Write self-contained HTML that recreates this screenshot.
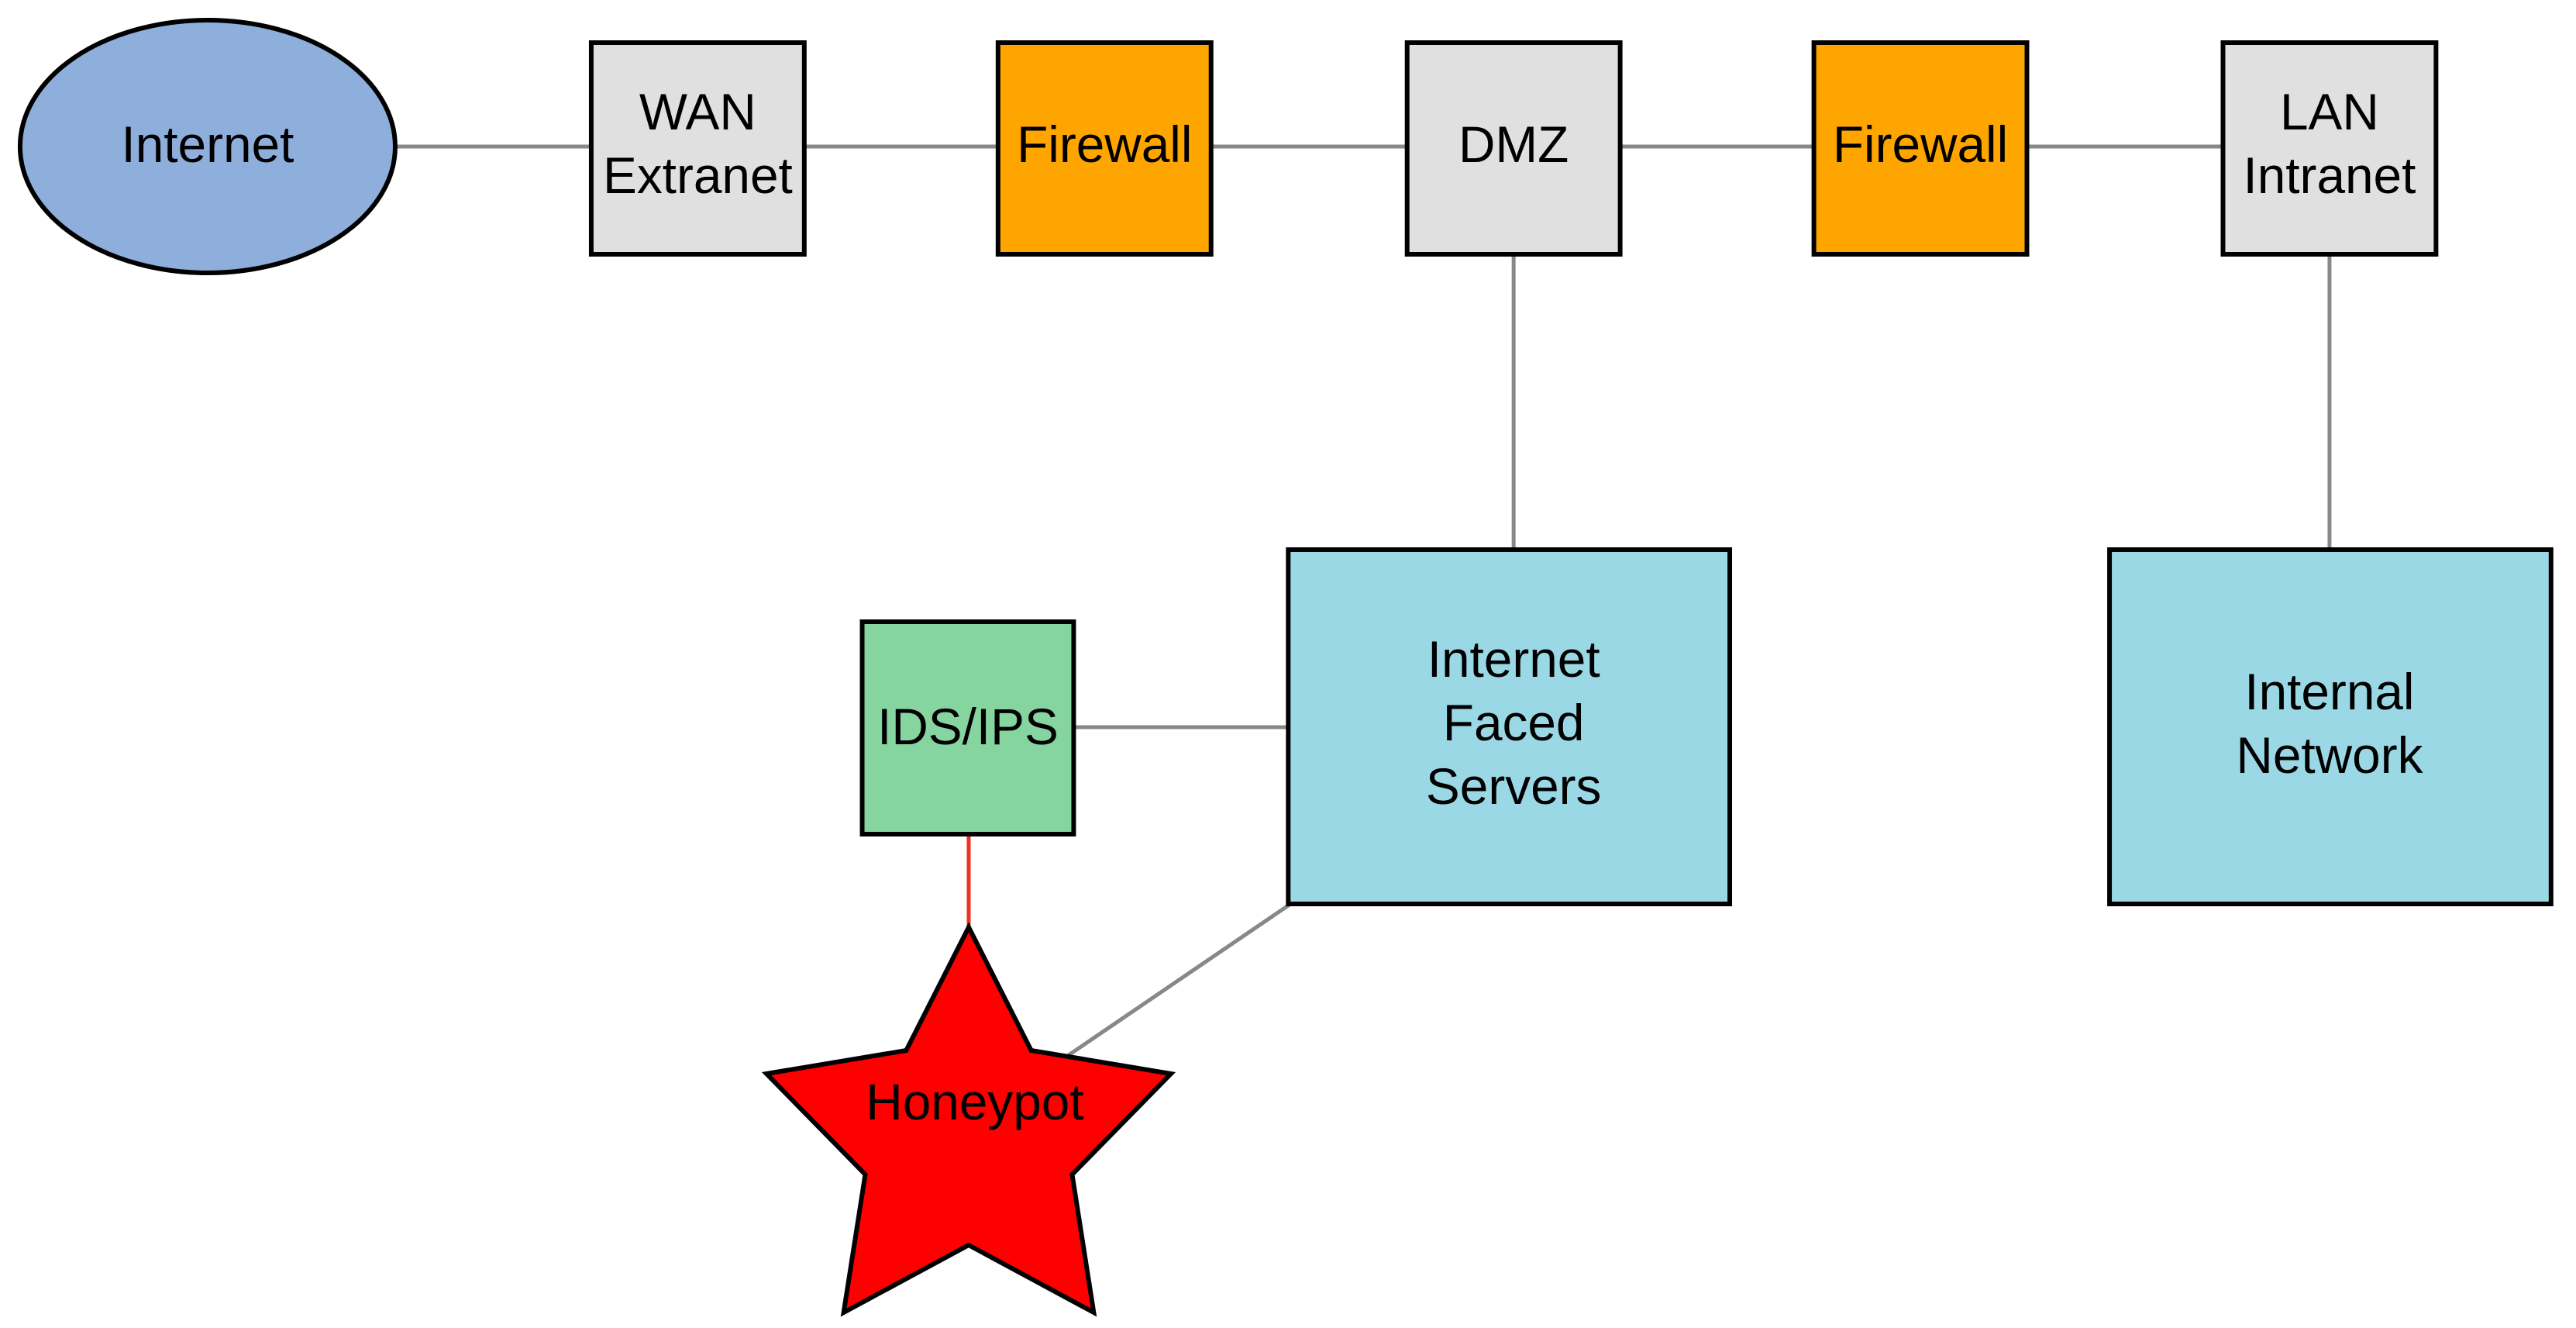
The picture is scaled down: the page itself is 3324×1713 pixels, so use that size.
<!DOCTYPE html>
<html><head><meta charset="utf-8"><style>
html,body{margin:0;padding:0;background:#fff;}
svg{display:block;}
text{font-family:"Liberation Sans",sans-serif;font-size:66px;fill:#000;text-anchor:middle;}
</style></head><body>
<svg width="3324" height="1713" viewBox="0 0 3324 1713" xmlns="http://www.w3.org/2000/svg">
<g transform="scale(0.996 1)">
<g stroke="#86888a" stroke-width="5" fill="none">
<line x1="510" y1="189" x2="2880" y2="189"/>
<line x1="1961" y1="328" x2="1961" y2="710"/>
<line x1="3018" y1="328" x2="3018" y2="710"/>
<line x1="1391" y1="938" x2="1669" y2="938"/>
<line x1="1672" y1="1166" x2="1380" y2="1364"/>
</g>
<line x1="1255" y1="1076" x2="1255" y2="1196" stroke="#f03020" stroke-width="5"/>
<g stroke="#000" stroke-width="6">
<ellipse cx="269" cy="189" rx="243" ry="163" fill="#8eaedc"/>
<rect x="766" y="55" width="276" height="273" fill="#e0e0e0"/>
<rect x="1293" y="55" width="276" height="273" fill="#ffa500"/>
<rect x="1823" y="55" width="276" height="273" fill="#e0e0e0"/>
<rect x="2350" y="55" width="276" height="273" fill="#ffa500"/>
<rect x="2880" y="55" width="276" height="273" fill="#e0e0e0"/>
<rect x="1669" y="709" width="572" height="457" fill="#9bd8e6"/>
<rect x="2733" y="709" width="572" height="457" fill="#9bd8e6"/>
<rect x="1117" y="802" width="274" height="274" fill="#86d4a0"/>
<polygon points="1255,1196 1336,1355 1517,1385 1389,1515 1417,1693 1255,1606 1093,1693 1121,1515 993,1385 1174,1355" fill="#ff0000"/>
</g>
<text x="269" y="209">Internet</text>
<text x="904" y="167">WAN</text>
<text x="904" y="249">Extranet</text>
<text x="1431" y="209">Firewall</text>
<text x="1961" y="209">DMZ</text>
<text x="2488" y="209">Firewall</text>
<text x="3018" y="167">LAN</text>
<text x="3018" y="249">Intranet</text>
<text x="1961" y="873">Internet</text>
<text x="1961" y="955">Faced</text>
<text x="1961" y="1037">Servers</text>
<text x="3018" y="915">Internal</text>
<text x="3018" y="997">Network</text>
<text x="1254" y="960">IDS/IPS</text>
<text x="1263" y="1444">Honeypot</text>
</g>
</svg>
</body></html>
